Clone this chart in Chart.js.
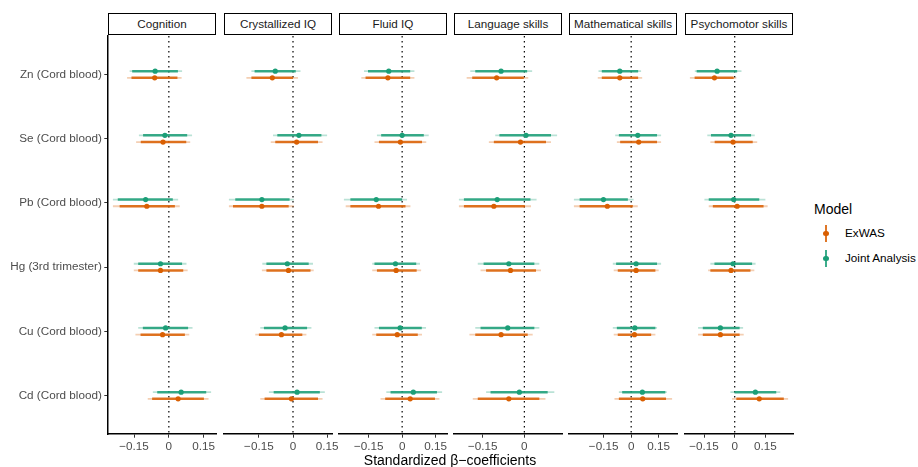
<!DOCTYPE html>
<html>
<head>
<meta charset="utf-8">
<script src="https://cdn.jsdelivr.net/npm/chart.js@4.4.0/dist/chart.umd.min.js"></script>
<style>
  body { margin: 0; background: #fff; font-family: "Liberation Sans", Arial, sans-serif; }
  #wrap { position: relative; width: 918px; height: 467px; overflow: hidden; background: #fff; }
  #wrap canvas { position: absolute; }
  .strip { position: absolute; top: 13px; height: 22px; box-sizing: border-box; border: 1.5px solid #000;
           background: #fff; color: #1a1a1a; font-size: 11.7px; text-align: center; line-height: 19px; white-space: nowrap; }
  .xtitle { position: absolute; left: 108px; width: 684px; top: 452px; text-align: center; font-size: 14px; color: #000; }
  .legtitle { position: absolute; left: 814px; top: 201px; font-size: 14px; color: #000; }
  .legline { position: absolute; width: 1.8px; height: 17px; }
  .legdot { position: absolute; width: 5.5px; height: 5.5px; border-radius: 50%; }
  .leglabel { position: absolute; left: 845px; font-size: 11.7px; color: #000; line-height: 14px; }
</style>
</head>
<body>
<div id="wrap"></div>
<script>
// exposures (rows, top to bottom) and outcomes (one facet each)
const exposures = ['Zn (Cord blood)', 'Se (Cord blood)', 'Pb (Cord blood)', 'Hg (3rd trimester)', 'Cu (Cord blood)', 'Cd (Cord blood)'];
const outcomes = ['Cognition', 'Crystallized IQ', 'Fluid IQ', 'Language skills', 'Mathematical skills', 'Psychomotor skills'];
const xTicks = [-0.15, 0, 0.15];

// ExWAS estimates, [outcome][exposure]
const exwasEst = [
  [-0.061, -0.025, -0.095, -0.036, -0.027, 0.040],
  [-0.091, 0.016, -0.137, -0.020, -0.051, -0.007],
  [-0.064, -0.008, -0.106, -0.027, -0.022, 0.036],
  [-0.100, -0.014, -0.110, -0.050, -0.084, -0.056],
  [-0.062, 0.041, -0.130, 0.027, 0.018, 0.063],
  [-0.099, -0.008, 0.012, -0.018, -0.070, 0.120]
];
const exwasInnerLo = [
  [-0.161, -0.121, -0.212, -0.132, -0.122, -0.072],
  [-0.183, -0.078, -0.264, -0.117, -0.150, -0.125],
  [-0.164, -0.104, -0.232, -0.113, -0.116, -0.076],
  [-0.188, -0.110, -0.218, -0.138, -0.177, -0.168],
  [-0.160, -0.060, -0.281, -0.073, -0.073, -0.067],
  [-0.196, -0.098, -0.107, -0.119, -0.156, 0.008]
];
const exwasInnerHi = [
  [0.037, 0.075, 0.026, 0.062, 0.069, 0.151],
  [0.000, 0.110, -0.019, 0.077, 0.041, 0.110],
  [0.036, 0.089, 0.015, 0.065, 0.070, 0.147],
  [-0.002, 0.078, 0.002, 0.042, 0.012, 0.054],
  [0.038, 0.141, 0.009, 0.132, 0.109, 0.190],
  [-0.005, 0.088, 0.141, 0.077, 0.024, 0.240]
];
const exwasOuterLo = [
  [-0.180, -0.141, -0.241, -0.151, -0.144, -0.091],
  [-0.205, -0.098, -0.282, -0.137, -0.166, -0.144],
  [-0.183, -0.124, -0.253, -0.134, -0.134, -0.097],
  [-0.208, -0.128, -0.236, -0.158, -0.198, -0.186],
  [-0.182, -0.078, -0.312, -0.095, -0.095, -0.091],
  [-0.219, -0.119, -0.127, -0.130, -0.179, -0.013]
];
const exwasOuterHi = [
  [0.055, 0.092, 0.047, 0.081, 0.088, 0.171],
  [0.022, 0.130, 0.004, 0.091, 0.059, 0.130],
  [0.055, 0.108, 0.037, 0.085, 0.089, 0.167],
  [0.014, 0.096, 0.024, 0.060, 0.030, 0.076],
  [0.060, 0.163, 0.036, 0.150, 0.132, 0.223],
  [0.008, 0.110, 0.161, 0.096, 0.044, 0.261]
];

// Joint Analysis estimates, [outcome][exposure]
const jointEst = [
  [-0.059, -0.017, -0.100, -0.036, -0.014, 0.053],
  [-0.078, 0.026, -0.137, -0.025, -0.035, 0.018],
  [-0.060, 0.000, -0.116, -0.030, -0.009, 0.050],
  [-0.084, 0.006, -0.098, -0.056, -0.060, -0.018],
  [-0.062, 0.036, -0.151, 0.027, 0.020, 0.061],
  [-0.086, -0.018, -0.005, -0.008, -0.070, 0.101]
];
const jointInnerLo = [
  [-0.158, -0.111, -0.220, -0.132, -0.112, -0.050],
  [-0.169, -0.069, -0.254, -0.117, -0.128, -0.085],
  [-0.153, -0.094, -0.232, -0.124, -0.104, -0.052],
  [-0.177, -0.090, -0.218, -0.147, -0.158, -0.122],
  [-0.160, -0.067, -0.281, -0.082, -0.078, -0.049],
  [-0.186, -0.116, -0.127, -0.099, -0.156, -0.001]
];
const jointInnerHi = [
  [0.039, 0.079, 0.017, 0.057, 0.083, 0.161],
  [0.012, 0.125, -0.015, 0.069, 0.062, 0.118],
  [0.036, 0.097, 0.000, 0.063, 0.088, 0.156],
  [0.010, 0.096, 0.022, 0.036, 0.036, 0.084],
  [0.038, 0.141, -0.018, 0.141, 0.132, 0.186],
  [0.012, 0.080, 0.120, 0.085, 0.024, 0.203]
];
const jointOuterLo = [
  [-0.169, -0.129, -0.241, -0.151, -0.132, -0.069],
  [-0.183, -0.088, -0.282, -0.135, -0.144, -0.106],
  [-0.171, -0.113, -0.261, -0.134, -0.124, -0.071],
  [-0.195, -0.105, -0.236, -0.168, -0.177, -0.138],
  [-0.178, -0.087, -0.312, -0.100, -0.100, -0.067],
  [-0.195, -0.134, -0.148, -0.119, -0.179, -0.021]
];
const jointOuterHi = [
  [0.057, 0.100, 0.040, 0.076, 0.102, 0.182],
  [0.033, 0.150, 0.004, 0.088, 0.081, 0.140],
  [0.055, 0.119, 0.022, 0.080, 0.107, 0.179],
  [0.028, 0.118, 0.044, 0.054, 0.054, 0.108],
  [0.054, 0.163, 0.013, 0.163, 0.141, 0.194],
  [0.033, 0.098, 0.150, 0.102, 0.041, 0.223]
];

// legend order: ExWAS first; shift = dodge within a row (joint sits above)
const models = [
  { name: 'ExWAS', rgb: '217,95,2', shift: 0.052,
    est: exwasEst, innerLo: exwasInnerLo, innerHi: exwasInnerHi, outerLo: exwasOuterLo, outerHi: exwasOuterHi },
  { name: 'Joint Analysis', rgb: '27,158,119', shift: -0.052,
    est: jointEst, innerLo: jointInnerLo, innerHi: jointInnerHi, outerLo: jointOuterLo, outerHi: jointOuterHi }
];

const font = 'Liberation Sans';
const panelLeft = [108, 224, 339, 454, 569, 685];
const panelW = 108;
const wrap = document.getElementById('wrap');

// interval segments broken apart with null points
function segments(lo, hi, shift) {
  const pts = [];
  lo.forEach((v, i) => {
    pts.push({ x: v, y: i + shift }, { x: hi[i], y: i + shift }, { x: null, y: null });
  });
  return pts;
}

function fmtTick(v) {
  if (v === 0) return '0';
  return (v < 0 ? '\u2212' : '') + Math.abs(v).toFixed(2);
}

outcomes.forEach((title, p) => {
  const first = p === 0;
  const padL = first ? 0 : 12, padR = 14, padT = 4;
  const yW = first ? 108 : 0;

  // free x scale per facet, 5% expansion like ggplot
  const lo = Math.min(...exwasOuterLo[p], ...jointOuterLo[p]);
  const hi = Math.max(...exwasOuterHi[p], ...jointOuterHi[p]);
  const pad = (hi - lo) * 0.05;

  const canvas = document.createElement('canvas');
  canvas.width = padL + yW + panelW + padR;
  canvas.height = 426;
  canvas.style.left = (panelLeft[p] - padL - yW) + 'px';
  canvas.style.top = '32px';
  wrap.appendChild(canvas);

  const strip = document.createElement('div');
  strip.className = 'strip';
  strip.style.left = panelLeft[p] + 'px';
  strip.style.width = panelW + 'px';
  strip.textContent = title;
  wrap.appendChild(strip);

  const points = [], thick = [], thin = [];
  models.forEach(m => {
    points.push({
      data: m.est[p].map((v, i) => ({ x: v, y: i + m.shift })),
      pointRadius: 2.6, pointHoverRadius: 2.6, pointBorderWidth: 0,
      backgroundColor: 'rgb(' + m.rgb + ')'
    });
    thick.push({
      data: segments(m.innerLo[p], m.innerHi[p], m.shift),
      showLine: true, borderWidth: 2.5, borderColor: 'rgba(' + m.rgb + ',0.85)', pointRadius: 0
    });
    thin.push({
      data: segments(m.outerLo[p], m.outerHi[p], m.shift),
      showLine: true, borderWidth: 1.8, borderColor: 'rgba(' + m.rgb + ',0.3)', pointRadius: 0
    });
  });
  const zero = {
    data: [{ x: 0, y: -0.6 }, { x: 0, y: 5.6 }],
    showLine: true, borderColor: '#000', borderWidth: 1.2, borderDash: [1.4, 3.6], pointRadius: 0
  };

  new Chart(canvas, {
    type: 'scatter',
    data: { datasets: [...points, ...thick, ...thin, zero] },
    options: {
      responsive: false,
      animation: false,
      devicePixelRatio: 1,
      layout: { padding: { left: padL, right: padR, top: padT, bottom: 0 } },
      plugins: { legend: { display: false }, tooltip: { enabled: false } },
      scales: {
        x: {
          type: 'linear', min: lo - pad, max: hi + pad,
          afterBuildTicks: s => { s.ticks = xTicks.filter(v => v >= s.min && v <= s.max).map(v => ({ value: v })); },
          afterFit: s => { s.height = 24; s.paddingLeft = 0; s.paddingRight = 0; },
          ticks: { callback: fmtTick, color: '#4d4d4d', font: { family: font, size: 11.7 }, padding: 2.5, autoSkip: false, maxRotation: 0 },
          grid: { drawOnChartArea: false, color: '#333', tickLength: 3.7 },
          border: { color: '#000', width: 1.5 }
        },
        y: {
          type: 'linear', reverse: true, min: -0.6, max: 5.6, display: first,
          afterBuildTicks: s => { s.ticks = exposures.map((e, i) => ({ value: i })); },
          afterFit: s => {
            s.width = first ? 108 : 0;
            s.paddingTop = 0;
            s.paddingBottom = 0;
          },
          ticks: { callback: v => exposures[v], color: '#4d4d4d', font: { family: font, size: 11.7 }, padding: 2.5, autoSkip: false },
          grid: { drawOnChartArea: false, color: '#333', tickLength: 3.7 },
          border: { color: '#000', width: 1.5 }
        }
      }
    }
  });
});

// axis title and legend
const xt = document.createElement('div');
xt.className = 'xtitle';
xt.textContent = 'Standardized \u03b2\u2212coefficients';
wrap.appendChild(xt);

const lt = document.createElement('div');
lt.className = 'legtitle';
lt.textContent = 'Model';
wrap.appendChild(lt);

models.forEach((m, k) => {
  const cy = 233.3 + k * 25;
  const line = document.createElement('div');
  line.className = 'legline';
  line.style.left = '825px';
  line.style.top = (cy - 8.5) + 'px';
  line.style.background = 'rgba(' + m.rgb + ',0.85)';
  wrap.appendChild(line);
  const dot = document.createElement('div');
  dot.className = 'legdot';
  dot.style.left = '823.1px';
  dot.style.top = (cy - 2.75) + 'px';
  dot.style.background = 'rgb(' + m.rgb + ')';
  wrap.appendChild(dot);
  const lab = document.createElement('div');
  lab.className = 'leglabel';
  lab.style.top = (cy - 7) + 'px';
  lab.textContent = m.name;
  wrap.appendChild(lab);
});
</script>
</body>
</html>
